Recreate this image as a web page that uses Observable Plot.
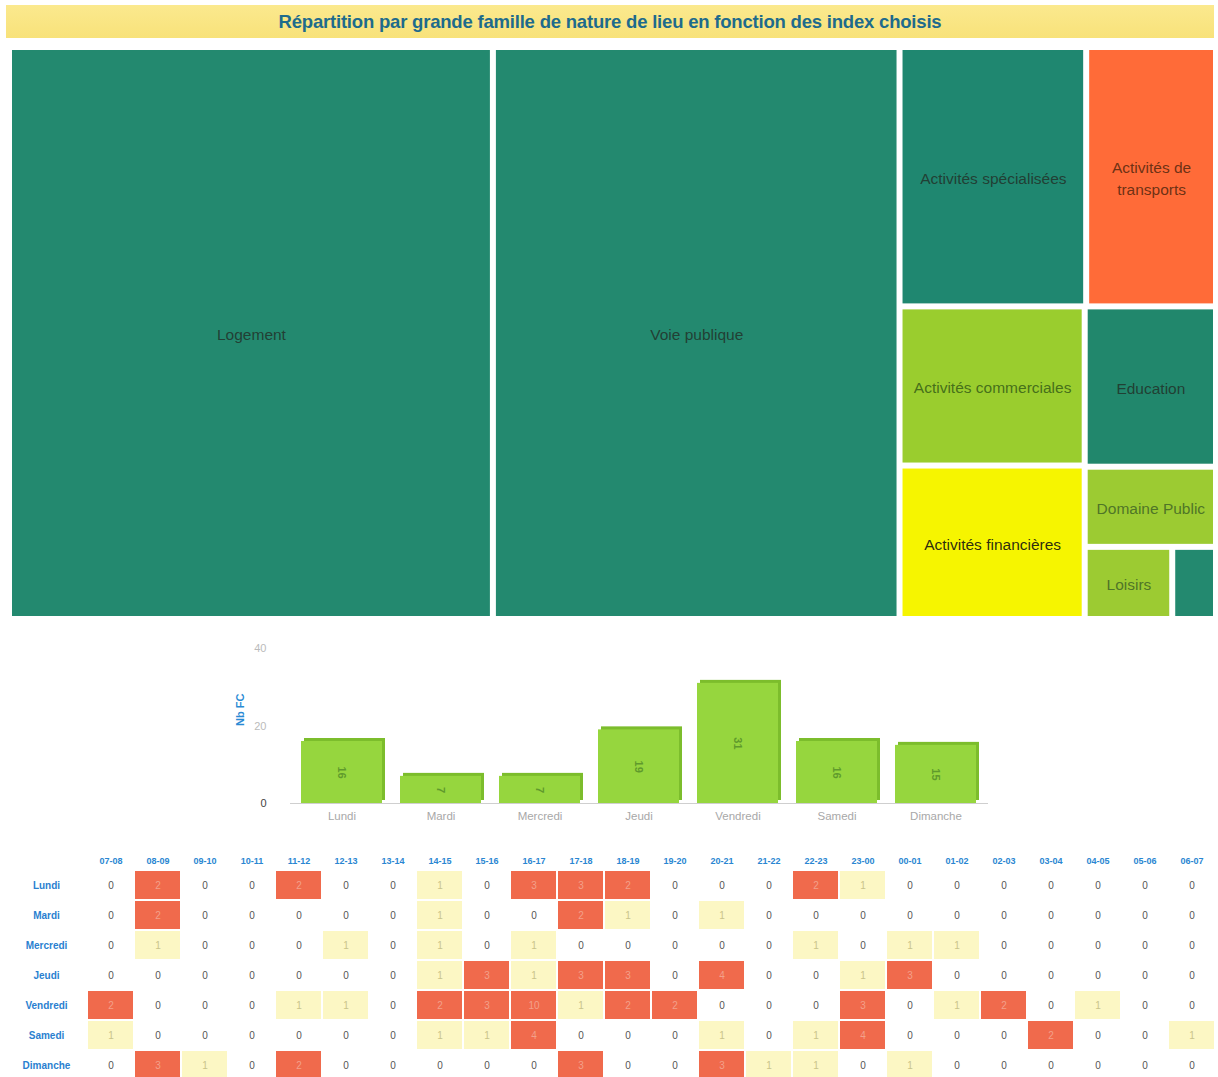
<!DOCTYPE html>
<html>
<head>
<meta charset="utf-8">
<script src="https://cdn.jsdelivr.net/npm/d3@7"></script>
<script src="https://cdn.jsdelivr.net/npm/@observablehq/plot@0.6"></script>
<style>
  html, body { margin: 0; padding: 0; background: #fff; width: 1218px; height: 1077px; overflow: hidden; font-family: "Liberation Sans", Arial, sans-serif; }
  #title { position: absolute; left: 6px; top: 5px; width: 1208px; height: 33px; background: linear-gradient(#fbe98e, #f8e27a); color: #1e6b8c; font-weight: bold; font-size: 18.5px; text-align: center; line-height: 33px; letter-spacing: -0.2px; }
  #treemap { position: absolute; left: 0; top: 50px; }
  #bars { position: absolute; left: 0; top: 630px; }
  #heat { position: absolute; left: 0; top: 840px; }
</style>
</head>
<body>
<div id="title">Répartition par grande famille de nature de lieu en fonction des index choisis</div>
<div id="treemap"></div>
<div id="bars"></div>
<div id="heat"></div>
<script>
// ---------- DATA ----------
const familles = ["Logement", "Voie publique", "Activités spécialisées", "Activités de\ntransports", "Activités commerciales", "Activités financières", "Education", "Domaine Public", "Loisirs", "Autres"];
const famillesValeurs = [263, 221, 46, 32, 28, 27, 20, 10, 6, 3];

const jours = ["Lundi", "Mardi", "Mercredi", "Jeudi", "Vendredi", "Samedi", "Dimanche"];
const nbFC = [16, 7, 7, 19, 31, 16, 15];

const tranches = ["07-08","08-09","09-10","10-11","11-12","12-13","13-14","14-15","15-16","16-17","17-18","18-19","19-20","20-21","21-22","22-23","23-00","00-01","01-02","02-03","03-04","04-05","05-06","06-07"];
const lundi    = [0,2,0,0,2,0,0,1,0,3,3,2,0,0,0,2,1,0,0,0,0,0,0,0];
const mardi    = [0,2,0,0,0,0,0,1,0,0,2,1,0,1,0,0,0,0,0,0,0,0,0,0];
const mercredi = [0,1,0,0,0,1,0,1,0,1,0,0,0,0,0,1,0,1,1,0,0,0,0,0];
const jeudi    = [0,0,0,0,0,0,0,1,3,1,3,3,0,4,0,0,1,3,0,0,0,0,0,0];
const vendredi = [2,0,0,0,1,1,0,2,3,10,1,2,2,0,0,0,3,0,1,2,0,1,0,0];
const samedi   = [1,0,0,0,0,0,0,1,1,4,0,0,0,1,0,1,4,0,0,0,2,0,0,1];
const dimanche = [0,3,1,0,2,0,0,0,0,0,3,0,0,3,1,1,0,1,0,0,0,0,0,0];
const grille = [lundi, mardi, mercredi, jeudi, vendredi, samedi, dimanche];

// ---------- STYLES ----------
const teal = "#23896f";
const famColors = [teal, teal, "#1f8770", "#ff6b38", "#9acd2e", "#f6f500", "#21876c", "#9ccb32", "#9ccb32", "#23896f"];
const famText = ["#22362d", "#22362d", "#22362d", "#5a2a10", "#3a6418", "#111", "#22362d", "#456a26", "#456a26", "#22362d"];

// ---------- TREEMAP ----------
const TW = 1201, TH = 566;
const root = d3.hierarchy({children: familles.map((n, i) => ({name: n, value: famillesValeurs[i], i}))})
  .sum(d => d.value || 0)
  .sort((a, b) => b.value - a.value);
d3.treemap().tile(d3.treemapSquarify.ratio(1)).size([TW, TH]).paddingInner(6).paddingOuter(0)(root);
const leaves = root.leaves().map(l => ({name: l.data.name, i: l.data.i, x0: l.x0, x1: l.x1, y0: l.y0, y1: l.y1}));

const treemap = Plot.plot({
  width: 1218, height: TH,
  marginLeft: 12, marginRight: 5, marginTop: 0, marginBottom: 0,
  x: {domain: [0, TW], axis: null},
  y: {domain: [0, TH], axis: null, reverse: true},
  style: {fontFamily: "'Liberation Sans', Arial, sans-serif"},
  marks: [
    Plot.rect(leaves, {x1: "x0", x2: "x1", y1: "y0", y2: "y1", fill: d => famColors[d.i]}),
    Plot.text(leaves.filter(d => d.x1 - d.x0 > 60), {
      x: d => (d.x0 + d.x1) / 2, y: d => (d.y0 + d.y1) / 2,
      text: "name", fill: d => famText[d.i], fontSize: 15.5, lineHeight: 1.4,
      fillOpacity: 0.9
    })
  ]
});
document.getElementById("treemap").append(treemap);

// ---------- BAR CHART ----------
const barData = jours.map((j, i) => ({jour: j, v: nbFC[i]}));
const bars = Plot.plot({
  width: 1218, height: 200,
  marginLeft: 290, marginRight: 230, marginTop: 18, marginBottom: 27,
  x: {domain: jours, padding: 0.18, paddingOuter: 0.09, label: null},
  y: {domain: [0, 40], label: null},
  style: {fontFamily: "'Liberation Sans', Arial, sans-serif", fontSize: "11px"},
  marks: [
    Plot.ruleY([0], {stroke: "#cfcfcf"}),
    Plot.axisX({tickSize: 0, tickPadding: 8, fill: "#a8a8a8", fontSize: 11.5}),
    Plot.axisY({ticks: [0, 20, 40], tickSize: 0, tickPadding: 24, fill: d => d === 0 ? "#444" : "#bbb", fontSize: 11}),
    Plot.text(["Nb FC"], {text: d => d, frameAnchor: "left", dx: -50, rotate: -90, fill: "#2a8ad4", fontWeight: "bold", fontSize: 11}),
    Plot.barY(barData, {x: "jour", y: "v", fill: "#7cbd2c", dx: 3, dy: -3}),
    Plot.barY(barData, {x: "jour", y: "v", fill: "#96d63e"}),
    Plot.text(barData, {x: "jour", y: d => d.v / 2, text: d => String(d.v), rotate: 90, fill: "#5f9a2c", fontSize: 11, fontWeight: "bold"})
  ]
});
document.getElementById("bars").append(bars);

// ---------- HEATMAP ----------
const cells = [];
jours.forEach((j, r) => tranches.forEach((t, c) => cells.push({jour: j, h: t, v: grille[r][c]})));
const heat = Plot.plot({
  width: 1218, height: 240,
  marginLeft: 83, marginRight: 0, marginTop: 30, marginBottom: 0,
  x: {domain: tranches, padding: 0, label: null},
  y: {domain: jours, padding: 0, label: null},
  style: {fontFamily: "'Liberation Sans', Arial, sans-serif"},
  marks: [
    Plot.axisX({anchor: "top", tickSize: 0, tickPadding: 7, fill: "#2a86d2", fontWeight: "bold", fontSize: 9}),
    Plot.axisY({tickSize: 0, tickPadding: 37, textAnchor: "middle", fill: "#2a7fd0", fontWeight: "bold", fontSize: 10}),
    Plot.cell(cells, {x: "h", y: "jour", inset: 1, fill: d => d.v >= 2 ? "#f06a4c" : d.v === 1 ? "#fcf7c4" : "#ffffff"}),
    Plot.text(cells, {x: "h", y: "jour", text: d => String(d.v), fontSize: 10,
      fill: d => d.v >= 2 ? "#f3a08a" : d.v === 1 ? "#c9c48a" : "#555"})
  ]
});
document.getElementById("heat").append(heat);
</script>
</body>
</html>
